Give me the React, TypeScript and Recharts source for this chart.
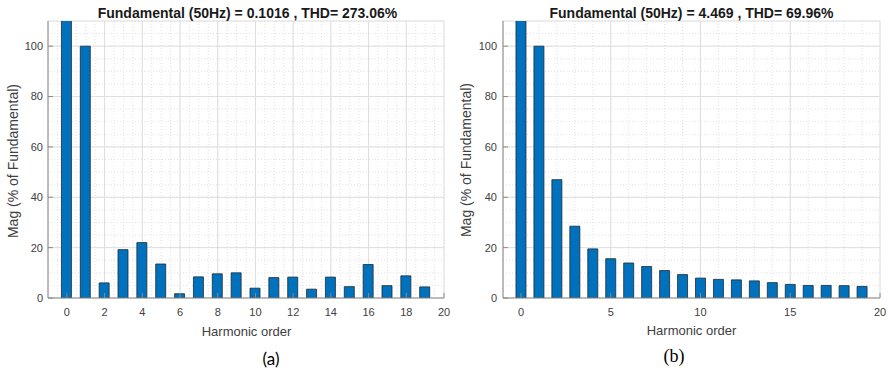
import React from 'react';
import { BarChart, Bar, XAxis, YAxis, CartesianGrid } from 'recharts';

// ---- data ----
const harmonicOrder = [0, 1, 2, 3, 4, 5, 6, 7, 8, 9, 10, 11, 12, 13, 14, 15, 16, 17, 18, 19];
// Panel (a): magnitude (% of fundamental); order 0 exceeds the 110 axis limit (clipped)
const magA = [120, 100, 6.0, 19.2, 22.0, 13.5, 1.7, 8.4, 9.6, 10.0, 3.9, 8.1, 8.3, 3.5, 8.3, 4.5, 13.3, 4.9, 8.8, 4.4];
// Panel (b)
const magB = [120, 100, 47.0, 28.5, 19.5, 15.6, 13.9, 12.5, 10.9, 9.3, 7.9, 7.4, 7.2, 6.8, 6.1, 5.4, 5.0, 5.0, 4.9, 4.6];

const titleA = 'Fundamental (50Hz) = 0.1016 , THD= 273.06%';
const titleB = 'Fundamental (50Hz) = 4.469 , THD= 69.96%';
const xTicksA = [0, 2, 4, 6, 8, 10, 12, 14, 16, 18, 20];
const xTicksB = [0, 5, 10, 15, 20];
const yTicks = [0, 20, 40, 60, 80, 100];
const xDomain: [number, number] = [-1, 20];
const yDomain: [number, number] = [0, 110];

const FONT = '"Liberation Sans", Arial, sans-serif';
const TICK_COLOR = '#404040';
const AXIS_COLOR = '#8a8a8a';

const range = (a: number, b: number, s: number) => {
  const out: number[] = [];
  for (let v = a; v <= b + 1e-9; v += s) out.push(Math.round(v * 100) / 100);
  return out;
};
const minorXA = range(-1, 20, 0.5);
const minorXB = range(-1, 20, 1);
const minorY = range(0, 110, 5);

const scaleOf = (axis: any, v: number): number | undefined => {
  const s = axis?.scale;
  if (typeof s === 'function') return s(v);
  if (s && typeof s.map === 'function') return s.map(v);
  if (s && typeof s.scale === 'function') return s.scale(v);
  return undefined;
};
const mapAxis = (axis: any, vals: number[]) =>
  vals.map((v) => scaleOf(axis, v)).filter((p): p is number => typeof p === 'number' && isFinite(p));

const EmptyTick = () => <g />;

type PanelProps = {
  values: number[];
  xTicks: number[];
  minorX: number[];
  width: number;
  plotLeft: number;
  plotRight: number;
  tickMargin: number;
};

function Panel({ values, xTicks, minorX, width, plotLeft, plotRight, tickMargin }: PanelProps) {
  const data = harmonicOrder.map((h, i) => ({ h, v: values[i] }));
  const tickStyle = { fill: TICK_COLOR, fontSize: 11, fontFamily: FONT };
  return (
    <BarChart
      width={width}
      height={373}
      data={data}
      margin={{ top: 21, right: width - plotRight, bottom: 0, left: 0 }}
      barGap={0}
    >
      <CartesianGrid
        stroke="#e2e2e2"
        strokeDasharray="1 2"
        verticalCoordinatesGenerator={({ xAxis }: any) => mapAxis(xAxis, minorX)}
        horizontalCoordinatesGenerator={({ yAxis }: any) => mapAxis(yAxis, minorY)}
      />
      <CartesianGrid stroke="#dedede" />
      <XAxis
        dataKey="h"
        type="number"
        domain={xDomain}
        ticks={xTicks}
        allowDataOverflow
        height={373 - 21 - 277}
        tickSize={-5}
        tickMargin={15}
        tick={tickStyle}
        axisLine={{ stroke: AXIS_COLOR }}
        tickLine={{ stroke: AXIS_COLOR }}
        interval={0}
      />
      <XAxis
        xAxisId="top"
        orientation="top"
        dataKey="h"
        type="number"
        domain={xDomain}
        ticks={xTicks}
        allowDataOverflow
        height={0}
        tickSize={-5}
        tick={EmptyTick}
        axisLine={{ stroke: AXIS_COLOR }}
        tickLine={{ stroke: AXIS_COLOR }}
        interval={0}
      />
      <YAxis
        type="number"
        domain={yDomain}
        ticks={yTicks}
        allowDataOverflow
        width={plotLeft}
        tickSize={-5}
        tickMargin={tickMargin}
        tick={tickStyle}
        axisLine={{ stroke: AXIS_COLOR }}
        tickLine={{ stroke: AXIS_COLOR }}
        interval={0}
      />
      <YAxis
        yAxisId="right"
        orientation="right"
        type="number"
        domain={yDomain}
        ticks={yTicks}
        allowDataOverflow
        width={0}
        tickSize={-5}
        tick={EmptyTick}
        axisLine={{ stroke: AXIS_COLOR }}
        tickLine={{ stroke: AXIS_COLOR }}
        interval={0}
      />
      <Bar
        dataKey="v"
        barSize={10}
        fill="#0072BD"
        stroke="#1b2a36"
        strokeWidth={0.8}
        isAnimationActive={false}
      />
    </BarChart>
  );
}

const abs = (style: React.CSSProperties): React.CSSProperties => ({ position: 'absolute', whiteSpace: 'nowrap', ...style });

export default function App() {
  return (
    <div style={{ position: 'absolute', left: 0, top: 0, width: 888, height: 373, background: '#fff', overflow: 'hidden' }}>
      <div style={abs({ left: 0, top: 0 })}>
        <Panel values={magA} xTicks={xTicksA} minorX={minorXA} width={462} plotLeft={48} plotRight={444} tickMargin={10} />
      </div>
      <div style={abs({ left: 444, top: 0 })}>
        <Panel values={magB} xTicks={xTicksB} minorX={minorXB} width={444} plotLeft={59} plotRight={436} tickMargin={11} />
      </div>
      {/* titles */}
      <div style={abs({ left: 247.5, top: 12.5, transform: 'translate(-50%,-50%)', fontFamily: FONT, fontWeight: 'bold', fontSize: 14, color: '#1a1a1a' })}>{titleA}</div>
      <div style={abs({ left: 691.5, top: 12.5, transform: 'translate(-50%,-50%)', fontFamily: FONT, fontWeight: 'bold', fontSize: 14, color: '#1a1a1a' })}>{titleB}</div>
      {/* x labels */}
      <div style={abs({ left: 246.5, top: 331, transform: 'translate(-50%,-50%)', fontFamily: FONT, fontSize: 13, color: TICK_COLOR })}>Harmonic order</div>
      <div style={abs({ left: 691.5, top: 330, transform: 'translate(-50%,-50%)', fontFamily: FONT, fontSize: 13, color: TICK_COLOR })}>Harmonic order</div>
      {/* y labels */}
      <div style={abs({ left: 12.5, top: 161, transform: 'translate(-50%,-50%) rotate(-90deg)', fontFamily: FONT, fontSize: 14, color: TICK_COLOR })}>Mag (% of Fundamental)</div>
      <div style={abs({ left: 465.5, top: 160, transform: 'translate(-50%,-50%) rotate(-90deg)', fontFamily: FONT, fontSize: 14, color: TICK_COLOR })}>Mag (% of Fundamental)</div>
      {/* captions */}
      <div style={abs({ left: 271, top: 358, transform: 'translate(-50%,-50%)', fontFamily: 'Lato, "Open Sans", sans-serif', fontSize: 17, color: '#000' })}>(a)</div>
      <div style={abs({ left: 674, top: 356, transform: 'translate(-50%,-50%)', fontFamily: '"Liberation Serif", serif', fontSize: 18, color: '#000' })}>(b)</div>
    </div>
  );
}
